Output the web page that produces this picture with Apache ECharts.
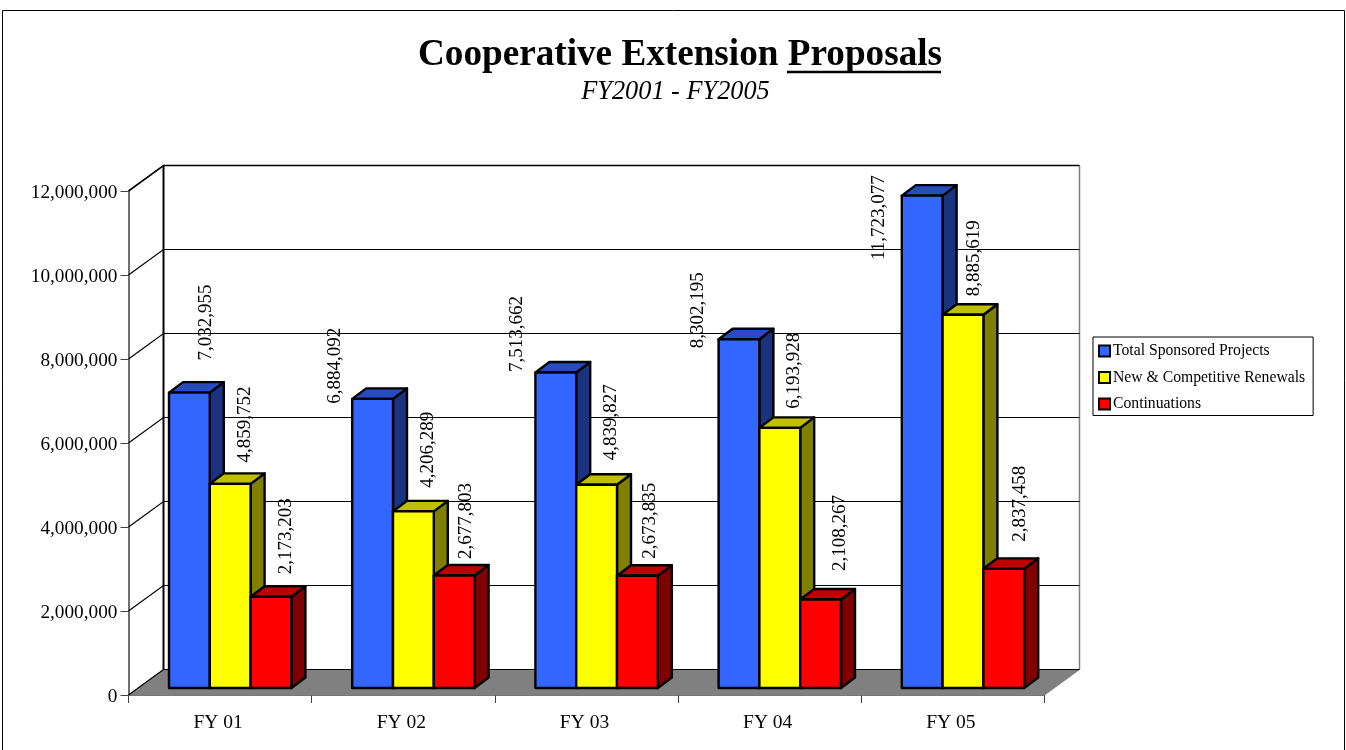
<!DOCTYPE html>
<html><head><meta charset="utf-8">
<style>html,body{margin:0;padding:0;background:#fff}#c{width:1346px;height:750px}</style>
<script src="https://cdn.jsdelivr.net/npm/echarts@6/dist/echarts.min.js"></script>
</head><body><div id="c"></div>
<script>
const categories = ['FY 01','FY 02','FY 03','FY 04','FY 05'];
const totalSponsored = [7032955, 6884092, 7513662, 8302195, 11723077];
const newCompetitive = [4859752, 4206289, 4839827, 6193928, 8885619];
const continuations = [2173203, 2677803, 2673835, 2108267, 2837458];
const yTicks = [0, 2000000, 4000000, 6000000, 8000000, 10000000, 12000000];

// hand-placed label nudges (label centre relative to the bar's front top centre)
const nudgeTotal = [[16.5,-70],[-37.5,-33],[-38.5,-38.5],[-40.5,-29],[-43.5,22]];
const nudgeNew = [[14.5,-59.5],[14.5,-61.5],[14.5,-62.5],[14.5,-57],[11.5,-56.5]];
const nudgeCont = [[15,-60.5],[12,-54.5],[13,-55],[19,-66.5],[16,-65]];

const FONT = '"Liberation Serif","Times New Roman",serif';
const WALL_DX = 35, WALL_DY = -25.5; // depth of the whole plot box
const BAR_DX = 14, BAR_DY = -10.5;   // depth of each bar
const OFF_Y = -7;                    // bars' front plane vs. front axis plane
const BAR_W = 40.8;

function wallItem(params, api) {
  const p = api.coord([0, api.value(0)]);
  const bs = params.coordSys;
  const x0 = bs.x, x1 = bs.x + bs.width, y = p[1];
  return {type:'group', silent:true, children:[
    {type:'polyline', shape:{points:[[x0,y],[x0+WALL_DX,y+WALL_DY],[x1+WALL_DX,y+WALL_DY]]}, style:{fill:'none',stroke:'#000',lineWidth:y<200?1.6:1.2}}
  ]};
}
function floorItem(params, api) {
  const bs = params.coordSys;
  const x0 = bs.x, x1 = bs.x + bs.width, yb = bs.y + bs.height, yt = bs.y;
  return {type:'group', silent:true, children:[
    {type:'polygon', shape:{points:[[x0,yb],[x0+WALL_DX,yb+WALL_DY],[x1+WALL_DX,yb+WALL_DY],[x1,yb]]}, style:{fill:'#808080',stroke:'#808080',lineWidth:1}},
    {type:'line', shape:{x1:x0+WALL_DX,y1:yb+WALL_DY,x2:x0+WALL_DX,y2:yt+WALL_DY}, style:{stroke:'#000',lineWidth:2}},
    {type:'line', shape:{x1:x1+WALL_DX,y1:yb+WALL_DY,x2:x1+WALL_DX,y2:yt+WALL_DY}, style:{stroke:'#808080',lineWidth:1.5}}
  ]};
}
function barRenderer(index, front, top, side, nudges) {
  return function (params, api) {
    const i = api.value(0), v = api.value(1);
    const c = api.coord([i, v]), b = api.coord([i, 0]);
    const bandW = api.size([1, 0])[0];
    const lx = c[0] - bandW / 2 + 40.5 + index * BAR_W;
    const rx = lx + BAR_W;
    const ty = c[1] + OFF_Y, by = b[1] + OFF_Y;
    const ln = {stroke:'#000', lineWidth:2.4, lineJoin:'round'};
    const n = nudges[i];
    return {type:'group', children:[
      {type:'polygon', shape:{points:[[rx,ty],[rx+BAR_DX,ty+BAR_DY],[rx+BAR_DX,by+BAR_DY],[rx,by]]}, style:Object.assign({fill:side},ln)},
      {type:'polygon', shape:{points:[[lx,ty],[lx+BAR_DX,ty+BAR_DY],[rx+BAR_DX,ty+BAR_DY],[rx,ty]]}, style:Object.assign({fill:top},ln)},
      {type:'rect', shape:{x:lx,y:ty,width:BAR_W,height:by-ty}, style:Object.assign({fill:front},ln)},
      {type:'text', z2:50, x:(lx+rx)/2+n[0], y:ty+n[1], rotation:Math.PI/2,
        style:{text:v.toLocaleString('en-US'), font:'19px '+FONT, fill:'#000', align:'center', verticalAlign:'middle'}}
    ]};
  };
}
function barSeries(name, values, index, front, top, side, nudges) {
  return {type:'custom', name, z:5, clip:false, coordinateSystem:'cartesian2d',
    itemStyle:{color:front, borderColor:'#000', borderWidth:2},
    encode:{x:0,y:1},
    renderItem:barRenderer(index, front, top, side, nudges),
    data:values.map((v,i)=>[i,v])};
}
const chart = echarts.init(document.getElementById('c'), null, {renderer:'canvas'});
chart.setOption({
  animation:false,
  backgroundColor:'#fff',
  title:[{
    text:'Cooperative Extension Proposals',
    left:675, textAlign:'center', top:32,
    textStyle:{fontFamily:FONT,fontWeight:'bold',fontSize:37.2,color:'#000'}
  },{
    text:'FY2001 - FY2005',
    left:670.5, textAlign:'center', top:74,
    textStyle:{fontFamily:FONT,fontStyle:'italic',fontWeight:'normal',fontSize:26.3,color:'#000'}
  }],
  legend:{
    orient:'vertical', left:1093, top:337, itemWidth:11, itemHeight:11, itemGap:10.5,
    padding:[6,8,3.5,5], borderColor:'#000', borderWidth:1, selectedMode:false,
    textStyle:{fontFamily:FONT,fontSize:15.7,color:'#000',padding:[0,0,0,-2]},
    data:[{name:'Total Sponsored Projects',icon:'rect'},{name:'New & Competitive Renewals',icon:'rect'},{name:'Continuations',icon:'rect'}]
  },
  grid:{left:128.5,right:301.5,top:191,height:504,containLabel:false},
  xAxis:{type:'category',data:categories,
    axisLine:{lineStyle:{color:'#404040',width:1.5}},
    axisTick:{show:true,length:8,alignWithLabel:false,lineStyle:{color:'#404040'}},
    axisLabel:{fontFamily:FONT,fontSize:19.5,color:'#000',margin:18,padding:[0,4,0,0]}},
  yAxis:{type:'value',min:0,max:12000000,interval:2000000,
    axisLine:{show:true,lineStyle:{color:'#404040',width:1.5}},
    axisTick:{show:true,length:8,lineStyle:{color:'#404040'}},
    splitLine:{show:false},
    axisLabel:{fontFamily:FONT,fontSize:19.3,color:'#000',margin:11,verticalAlign:'top',lineHeight:4,formatter:v=>v.toLocaleString('en-US')}},
  graphic:[
    {type:'rect',silent:true,z:-1,shape:{x:2.5,y:10.5,width:1342,height:760},style:{fill:'none',stroke:'#000',lineWidth:1}},
    {type:'line',silent:true,shape:{x1:787,y1:72,x2:941,y2:72},style:{stroke:'#000',lineWidth:2.5}}
  ],
  series:[
    {type:'custom',name:'floor',z:1,silent:true,clip:false,renderItem:floorItem,data:[[0,0]],encode:{x:0,y:1}},
    {type:'custom',name:'walls',z:2,silent:true,clip:false,renderItem:wallItem,data:yTicks.map(t=>[t]),encode:{y:0}},
    barSeries('Total Sponsored Projects',totalSponsored,0,'#3366ff','#264dbf','#1a3380',nudgeTotal),
    barSeries('New & Competitive Renewals',newCompetitive,1,'#ffff00','#bfbf00','#808000',nudgeNew),
    barSeries('Continuations',continuations,2,'#ff0000','#bf0000','#800000',nudgeCont)
  ]
});
</script></body></html>
